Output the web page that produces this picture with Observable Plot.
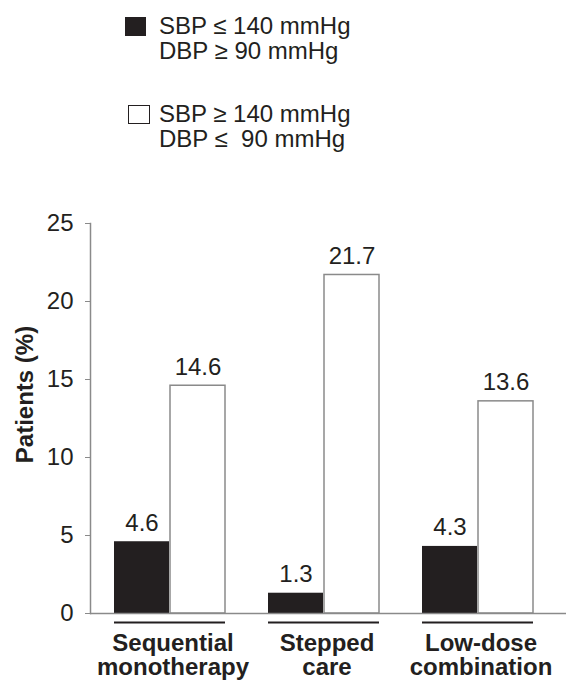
<!DOCTYPE html>
<html>
<head>
<meta charset="utf-8">
<script src="https://cdn.jsdelivr.net/npm/d3@7"></script>
<script src="https://cdn.jsdelivr.net/npm/@observablehq/plot@0.6"></script>
<style>
  html, body { margin: 0; padding: 0; background: #fff; }
  body { width: 566px; height: 683px; overflow: hidden; font-family: "Liberation Sans", Arial, sans-serif; color: #231f20; }
  #legend { position: relative; width: 566px; height: 180px; }
  .sw { position: absolute; box-sizing: border-box; }
  .lt { position: absolute; left: 159px; font-size: 24px; line-height: 24.5px; white-space: pre; }
</style>
</head>
<body>
<div id="legend"></div>
<div id="chart"></div>
<script>
// ---- data ----
const groups = ["Sequential monotherapy", "Stepped care", "Low-dose combination"];
const groupLabels = ["Sequential\nmonotherapy", "Stepped\ncare", "Low-dose\ncombination"];
const seriesNames = ["SBP ≤ 140 mmHg\nDBP ≥ 90 mmHg", "SBP ≥ 140 mmHg\nDBP ≤  90 mmHg"];
const diastolicValues = [4.6, 1.3, 4.3];   // SBP ≤ 140, DBP ≥ 90 (black)
const systolicValues = [14.6, 21.7, 13.6]; // SBP ≥ 140, DBP ≤ 90 (white)
const yTicks = [0, 5, 10, 15, 20, 25];
const yLabel = "Patients (%)";

const ink = "#231f20";
const grey = "#8a8a8a";

// ---- legend (HTML, above the SVG) ----
const legend = document.getElementById("legend");
legend.innerHTML = `
  <div class="sw" style="left:125px;top:17px;width:21px;height:19px;background:${ink}"></div>
  <div class="lt" style="top:14px">${seriesNames[0]}</div>
  <div class="sw" style="left:128px;top:105px;width:22px;height:19px;border:1.5px solid ${ink};background:#fff"></div>
  <div class="lt" style="top:102px">${seriesNames[1]}</div>`;

// ---- table ----
const blackRows = groups.map((g, i) => ({group: g, value: diastolicValues[i]}));
const whiteRows = groups.map((g, i) => ({group: g, value: systolicValues[i]}));
const fmt = d3.format(".1f");

const chart = Plot.plot({
  width: 566,
  height: 503,
  marginTop: 43,
  marginBottom: 70,
  marginLeft: 90,
  marginRight: 0,
  style: {fontFamily: '"Liberation Sans", Arial, sans-serif', fontSize: "24px", color: ink, background: "#fff", overflow: "visible"},
  x: {domain: groups, paddingInner: 0.277, paddingOuter: 0.174, align: 0.43, axis: null},
  y: {domain: [0, 25], axis: null},
  marks: [
    Plot.barY(blackRows, {x: "group", y: "value", fill: ink, insetRight: 56}),
    Plot.barY(whiteRows, {x: "group", y: "value", fill: "#fff", stroke: grey, strokeWidth: 1.5, insetLeft: 56}),
    Plot.ruleY([0], {stroke: grey, strokeWidth: 1.5}),
    Plot.axisY({ticks: yTicks, tickSize: 5, tickPadding: 12, stroke: grey, fill: ink, fontSize: 24, label: null}),
    Plot.frame({anchor: "left", stroke: grey, strokeWidth: 1.5}),
    Plot.text(blackRows, {x: "group", y: "value", text: d => fmt(d.value), dx: -28, dy: -11, lineAnchor: "bottom", fill: ink, fontSize: 24}),
    Plot.text(whiteRows, {x: "group", y: "value", text: d => fmt(d.value), dx: 28, dy: -11, lineAnchor: "bottom", fill: ink, fontSize: 24}),
    Plot.tickY(groups, {x: d => d, y: () => 0, dy: 9, stroke: ink, strokeWidth: 2}),
    Plot.text(groupLabels, {x: groups, frameAnchor: "bottom", text: d => d, dx: 3, dy: 20, lineAnchor: "top", lineHeight: 1.0, fontWeight: "bold", fontSize: 24, fill: ink}),
    Plot.text([yLabel], {frameAnchor: "left", text: d => d, textAnchor: "middle", dx: -58, dy: -24, rotate: -90, lineAnchor: "bottom", fontWeight: "bold", fontSize: 24, fill: ink})
  ]
});
document.getElementById("chart").appendChild(chart);
</script>
</body>
</html>
